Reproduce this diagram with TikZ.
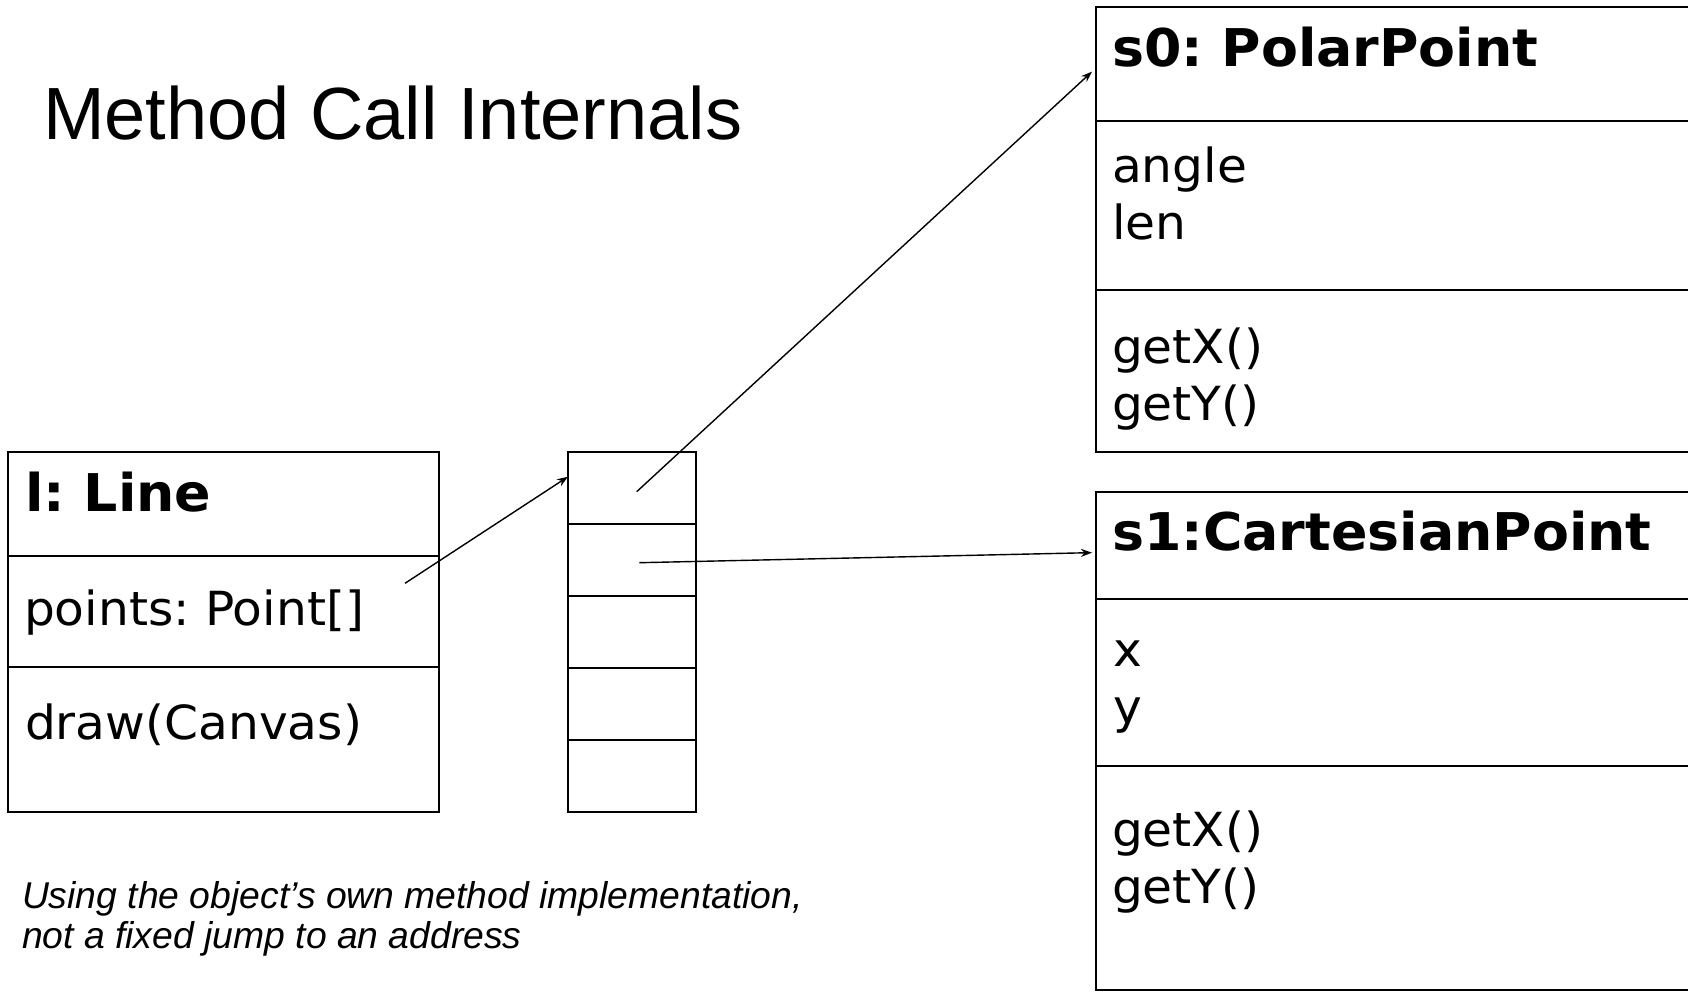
\documentclass[tikz,border=0pt]{standalone}
\usepackage{fontspec}
\setmainfont[FakeStretch=1.035]{DejaVu Sans}
\newfontfamily\titlefont{Liberation Sans}
\usepackage{tikz}
\usetikzlibrary{shapes,arrows,arrows.meta,positioning}
\frenchspacing

\begin{document}
\begin{tikzpicture}[x=1pt,y=-1pt,>={Stealth[length=11pt,width=8pt]},
                every node/.style={inner sep=0pt, outer sep=0pt},
                linecomp/.style={draw, rectangle, line width=2.2pt, minimum width=431, minimum height=#1},
                objcomp/.style={draw, rectangle, line width=2.2pt, minimum width=600, minimum height=#1},
                cell/.style={draw, rectangle, line width=2.2pt, minimum width=128, minimum height=72},
                headtext/.style={anchor=base west, font=\fontsize{52}{57}\selectfont\bfseries},
                membertext/.style={anchor=base west, align=left, font=\fontsize{47}{57}\selectfont},
                ref/.style={->, line width=1.4pt}
                ]
                \useasboundingbox (0,0) rectangle (1688,992);
                \node[anchor=base west, font=\titlefont\fontsize{74}{80}\selectfont] (title) at (43,140) {Method Call Internals};

                % l: Line
                \node[linecomp=104, anchor=north west] (linehead) at (8,452) {};
                \node[linecomp=111.3, below=0pt of linehead] (lineattr) {};
                \node[linecomp=144.7, below=0pt of lineattr] (lineops) {};
                \node[headtext] (linename) at (25,511.7) {l: Line};
                \node[membertext] (linefield) at (24,625.7) {points: Point[]};
                \node[membertext] (linemethod) at (25,739) {draw(Canvas)};

                % points array
                \node[cell, anchor=north west] (cell1) at (568,452) {};
                \foreach \i [count=\j from 2] in {1,...,4}
                        \node[cell, below=0pt of cell\i] (cell\j) {};

                % s0: PolarPoint (base = last line)
                \node[objcomp=113.7, anchor=north west] (s0head) at (1096,7.3) {};
                \node[objcomp=169, below=0pt of s0head] (s0attr) {};
                \node[objcomp=162.3, below=0pt of s0attr] (s0ops) {};
                \node[headtext] (s0name) at (1112,66.7) {s0: PolarPoint};
                \node[membertext] (s0fields) at (1112,240) {angle\\len};
                \node[membertext] (s0methods) at (1112,420) {getX()\\getY()};

                % s1:CartesianPoint
                \node[objcomp=106.7, anchor=north west] (s1head) at (1096,492.3) {};
                \node[objcomp=166.7, below=0pt of s1head] (s1attr) {};
                \node[objcomp=224.3, below=0pt of s1attr] (s1ops) {};
                \node[headtext] (s1name) at (1112,550) {s1:CartesianPoint};
                \node[membertext] (s1fields) at (1113,723.7) {x\\y};
                \node[membertext] (s1methods) at (1112,903.7) {getX()\\getY()};

                \node[anchor=base west, align=left, font=\titlefont\itshape\fontsize{37.3}{40}\selectfont] (note) at (22,948) {Using the object’s own method implementation,\\not a fixed jump to an address};

                % references
                \coordinate (ptr0) at (405,583.3);
                \coordinate (ptr1) at (636.7,491.7);
                \coordinate (ptr2) at (639.3,562.7);
                \draw[ref] (ptr0) -- (cell1.170);
                \draw[ref] (ptr1) -- ([xshift=-4,yshift=-7.5]s0head.west);
                \draw[ref] (ptr2) -- ([xshift=-4,yshift=-7]s1head.west);
        \end{tikzpicture}
\end{document}
